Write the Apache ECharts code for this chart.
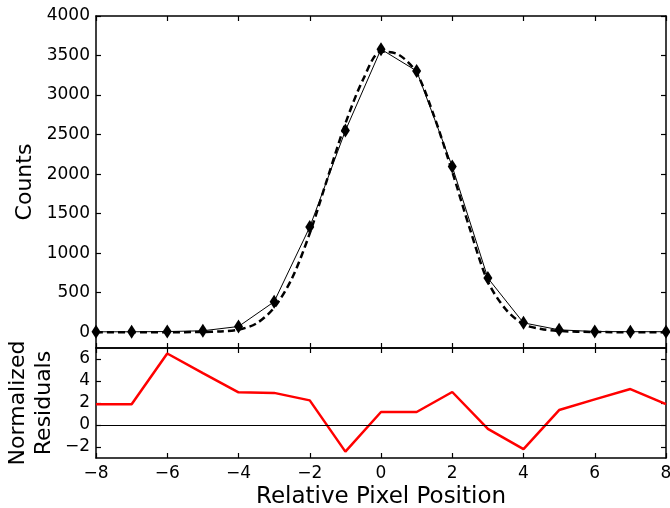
<!DOCTYPE html>
<html>
<head>
<meta charset="utf-8">
<script src="https://cdn.jsdelivr.net/npm/echarts@6/dist/echarts.min.js"></script>
<style>
  html, body { margin: 0; padding: 0; background: #fff; }
  #main { width: 670px; height: 508px; }
</style>
</head>
<body>
<div id="main"></div>
<script>
// data
const pixelPos = [-8, -7, -6, -5, -4, -3, -2, -1, 0, 1, 2, 3, 4, 5, 6, 7, 8];
const counts = [5, 5, 8, 18, 72, 385, 1330, 2550, 3580, 3305, 2095, 684, 118, 30, 8, 6, 6];
const modelPos = [-8, -7, -6, -5, -4.5, -4, -3.5, -3, -2.5, -2, -1.5, -1, -0.5, 0, 0.5, 1, 1.5, 2, 2.5, 3, 3.5, 4, 4.5, 5, 6, 7, 8];
const modelCounts = [0, 0, 0, 3, 10, 32, 110, 310, 680, 1250, 1950, 2640, 3200, 3550, 3510, 3280, 2720, 2030, 1300, 640, 290, 100, 40, 15, 3, 0, 0];
const residuals = [1.88, 1.88, 6.5, 4.72, 2.97, 2.92, 2.24, -2.42, 1.18, 1.18, 3.0, -0.36, -2.2, 1.36, 2.33, 3.27, 1.9];
const countTicks = [0, 500, 1000, 1500, 2000, 2500, 3000, 3500, 4000];
const residTicks = [-2, 0, 2, 4, 6];

const pairs = (xs, ys) => xs.map((x, i) => [x, ys[i]]);
const minus = v => String(v).replace('-', '\u2212');

let chartDom = document.getElementById('main');
let myChart = echarts.init(chartDom);

const frame = { show: true, onZero: false, lineStyle: { color: '#000', width: 1.5 } };
const tick = { show: true, inside: true, length: 5, lineStyle: { color: '#000', width: 1.2 } };
const label = { color: '#000', fontSize: 17, fontFamily: 'DejaVu Sans', formatter: minus };
const nameStyle = { color: '#000', fontSize: 23, fontFamily: 'DejaVu Sans' };

function xAx(gridIndex, position, showLabel) {
  return {
    type: 'value', gridIndex, position, min: -8, max: 8, interval: 2,
    axisLine: frame, axisTick: tick, splitLine: { show: false },
    axisLabel: Object.assign({}, label, { show: showLabel, margin: 7 })
  };
}
function yAx(gridIndex, position, min, max, ticks, showLabel) {
  return {
    type: 'value', gridIndex, position, min, max,
    axisLine: frame,
    axisTick: Object.assign({}, tick, { customValues: ticks }),
    splitLine: { show: false },
    axisLabel: Object.assign({}, label, { show: showLabel, customValues: ticks, margin: 6 })
  };
}

// vertical axis titles, placed as plain text
function yTitle(text, x, y) {
  return {
    type: 'text', x, y, rotation: Math.PI / 2, silent: true,
    style: {
      text, fill: '#000', fontSize: 22, fontFamily: 'DejaVu Sans',
      align: 'center', verticalAlign: 'middle', lineHeight: 26
    }
  };
}

let option = {
  animation: false,
  textStyle: { fontFamily: 'DejaVu Sans' },
  grid: [
    { left: 96, right: 4, top: 16, height: 332, outerBoundsMode: 'none' },
    { left: 96, right: 4, top: 348, height: 110, outerBoundsMode: 'none' }
  ],
  graphic: [
    yTitle('Counts', 25, 182),
    yTitle('Normalized\nResiduals', 31, 403)
  ],
  xAxis: [
    xAx(0, 'bottom', false),
    xAx(0, 'top', false),
    Object.assign(xAx(1, 'bottom', true), {
      name: 'Relative Pixel Position', nameLocation: 'middle', nameGap: 28,
      nameTextStyle: Object.assign({}, nameStyle, { verticalAlign: 'top' })
    }),
    xAx(1, 'top', false)
  ],
  yAxis: [
    yAx(0, 'left', -200, 4000, countTicks, true),
    yAx(0, 'right', -200, 4000, countTicks, false),
    yAx(1, 'left', -3, 7, residTicks, true),
    yAx(1, 'right', -3, 7, residTicks, false)
  ],
  series: [
    {
      name: 'model',
      type: 'line',
      xAxisIndex: 0, yAxisIndex: 0,
      data: pairs(modelPos, modelCounts),
      smooth: 0.3,
      showSymbol: false,
      lineStyle: { color: '#000', width: 2.5, type: [7, 4] },
      z: 2
    },
    {
      name: 'counts',
      type: 'line',
      xAxisIndex: 0, yAxisIndex: 0,
      data: pairs(pixelPos, counts),
      symbol: 'diamond',
      symbolSize: [9, 14],
      itemStyle: { color: '#000' },
      lineStyle: { color: '#000', width: 1 },
      z: 3
    },
    {
      name: 'residuals',
      type: 'line',
      xAxisIndex: 2, yAxisIndex: 2,
      data: pairs(pixelPos, residuals),
      showSymbol: false,
      lineStyle: { color: '#ff0000', width: 2.5 },
      markLine: {
        silent: true,
        symbol: 'none',
        label: { show: false },
        lineStyle: { color: '#000', width: 1, type: 'solid' },
        data: [{ yAxis: 0 }]
      }
    }
  ]
};

option && myChart.setOption(option);
</script>
</body>
</html>
